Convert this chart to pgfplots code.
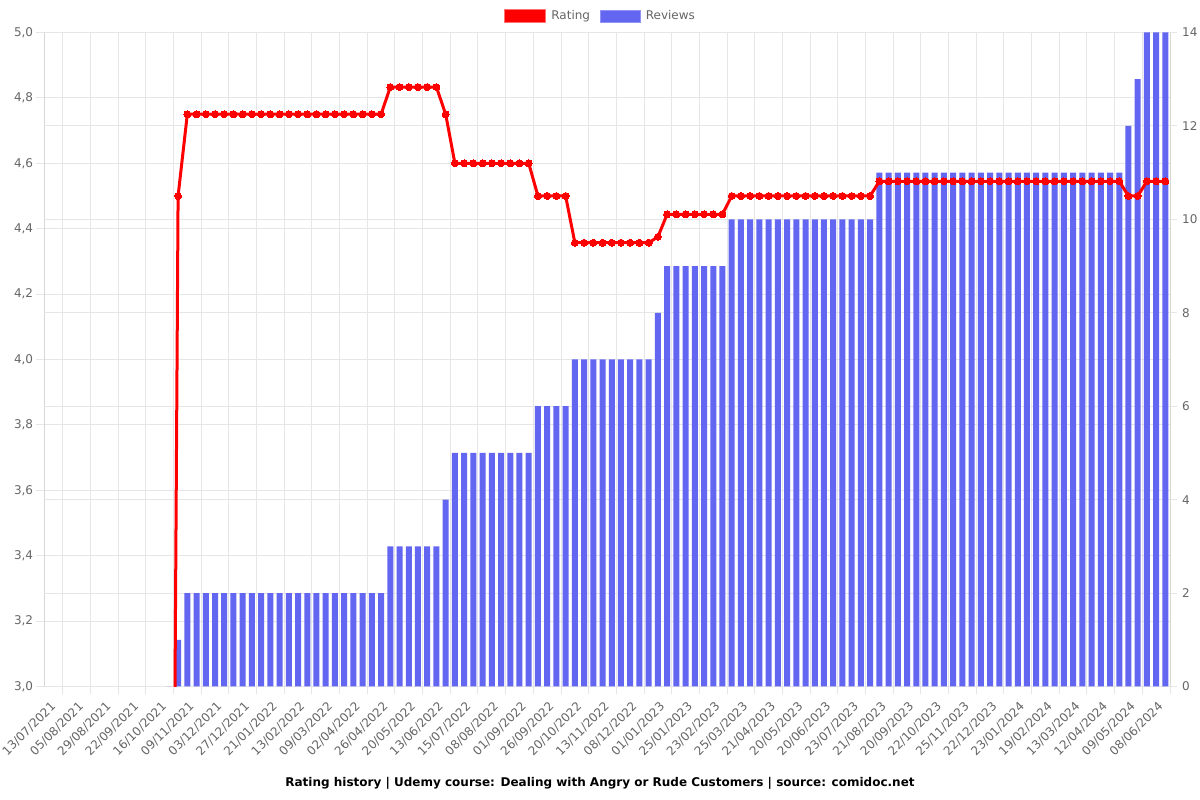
\documentclass[border=0pt]{standalone}
\usepackage{fontspec}
\setmainfont{DejaVu Sans}
\usepackage{pgfplots}
\usepackage{pgfplotstable}
\pgfplotsset{compat=1.18}
\definecolor{gridgray}{HTML}{E6E6E6}
\definecolor{axisgray}{HTML}{D6D6D6}
\definecolor{tickgray}{HTML}{666666}
\definecolor{barblue}{RGB}{99,102,241}
\definecolor{ratingred}{HTML}{FF0000}

\pgfplotstableread{
x rating reviews
13 0 0
14 4.5 1
15 4.75 2
16 4.75 2
17 4.75 2
18 4.75 2
19 4.75 2
20 4.75 2
21 4.75 2
22 4.75 2
23 4.75 2
24 4.75 2
25 4.75 2
26 4.75 2
27 4.75 2
28 4.75 2
29 4.75 2
30 4.75 2
31 4.75 2
32 4.75 2
33 4.75 2
34 4.75 2
35 4.75 2
36 4.75 2
37 4.833 3
38 4.833 3
39 4.833 3
40 4.833 3
41 4.833 3
42 4.833 3
43 4.75 4
44 4.6 5
45 4.6 5
46 4.6 5
47 4.6 5
48 4.6 5
49 4.6 5
50 4.6 5
51 4.6 5
52 4.6 5
53 4.5 6
54 4.5 6
55 4.5 6
56 4.5 6
57 4.357 7
58 4.357 7
59 4.357 7
60 4.357 7
61 4.357 7
62 4.357 7
63 4.357 7
64 4.357 7
65 4.357 7
66 4.375 8
67 4.444 9
68 4.444 9
69 4.444 9
70 4.444 9
71 4.444 9
72 4.444 9
73 4.444 9
74 4.5 10
75 4.5 10
76 4.5 10
77 4.5 10
78 4.5 10
79 4.5 10
80 4.5 10
81 4.5 10
82 4.5 10
83 4.5 10
84 4.5 10
85 4.5 10
86 4.5 10
87 4.5 10
88 4.5 10
89 4.5 10
90 4.545 11
91 4.545 11
92 4.545 11
93 4.545 11
94 4.545 11
95 4.545 11
96 4.545 11
97 4.545 11
98 4.545 11
99 4.545 11
100 4.545 11
101 4.545 11
102 4.545 11
103 4.545 11
104 4.545 11
105 4.545 11
106 4.545 11
107 4.545 11
108 4.545 11
109 4.545 11
110 4.545 11
111 4.545 11
112 4.545 11
113 4.545 11
114 4.545 11
115 4.545 11
116 4.545 11
117 4.5 12
118 4.5 13
119 4.545 14
120 4.545 14
121 4.545 14
}\data

\pgfplotsset{
  common/.style={scale only axis, width=1125.7pt, height=654pt,
    at={(44.3pt,113.5pt)}, anchor=south west, xmin=-0.5, xmax=121.5},
  tickfont/.style={font=\fontsize{12}{14}\selectfont, text=tickgray},
}

\begin{document}
\begin{tikzpicture}
\useasboundingbox (0,0) rectangle (1200pt,800pt);
\fill[white] (0,0) rectangle (1200pt,800pt);

% grid axis (rating scale, left)
\begin{axis}[common, ymin=3, ymax=5,
  ytick={3,3.2,3.4,3.6,3.8,4,4.2,4.4,4.6,4.8,5},
  xtick={1.5,4.5,7.5,10.5,13.5,16.5,19.5,22.5,25.5,28.5,31.5,34.5,37.5,40.5,43.5,46.5,49.5,52.5,55.5,58.5,61.5,64.5,67.5,70.5,73.5,76.5,79.5,82.5,85.5,88.5,91.5,94.5,97.5,100.5,103.5,106.5,109.5,112.5,115.5,118.5,121.5},
  xticklabels={},
  tick pos=left, tick align=outside, major tick length=8pt,
  grid=major, major grid style={gridgray, line width=1pt},
  tick style={gridgray, line width=1pt},
  axis line style={axisgray, line width=1pt},
  yticklabel style={tickfont, inner sep=0pt, xshift=-3pt},
  /pgf/number format/.cd, fixed, fixed zerofill, precision=1, use comma, assume math mode=true]
\end{axis}

% reviews axis (right)
\begin{axis}[common, ymin=0, ymax=14,
  ytick={0,2,4,6,8,10,12,14}, xtick=\empty,
  ytick pos=right, yticklabel pos=right,
  tick align=outside, major tick length=7pt,
  ymajorgrids, major grid style={gridgray, line width=1pt},
  tick style={gridgray, line width=1pt},
  axis line style={draw=none},
  yticklabel style={tickfont, inner sep=0pt, xshift=5pt},
  /pgf/number format/assume math mode=true]
\addplot[ybar, bar width=6pt, bar shift=0pt, fill=barblue, draw=none] table[x=x, y=reviews] {\data};
\end{axis}

% rating line axis
\begin{axis}[common, ymin=3, ymax=5, ytick=\empty,
  xtick={1,4,7,10,13,16,19,22,25,28,31,34,37,40,43,46,49,52,55,58,61,64,67,70,73,76,79,82,85,88,91,94,97,100,103,106,109,112,115,118,121},
  xticklabels={13/07/2021,05/08/2021,29/08/2021,22/09/2021,16/10/2021,09/11/2021,03/12/2021,27/12/2021,21/01/2022,13/02/2022,09/03/2022,02/04/2022,26/04/2022,20/05/2022,13/06/2022,15/07/2022,08/08/2022,01/09/2022,26/09/2022,20/10/2022,13/11/2022,08/12/2022,01/01/2023,25/01/2023,23/02/2023,25/03/2023,21/04/2023,20/05/2023,20/06/2023,23/07/2023,21/08/2023,20/09/2023,22/10/2023,25/11/2023,22/12/2023,23/01/2024,19/02/2024,13/03/2024,12/04/2024,09/05/2024,08/06/2024},
  major tick length=0pt, tick style={draw=none},
  axis line style={draw=none},
  xticklabel style={tickfont, inner sep=0pt, anchor=east, xshift=-4.5pt, yshift=-18pt, rotate=45},
  legend columns=2,
  legend style={at={(0.4940,1.0252)}, anchor=center, draw=none, fill=none,
    font=\fontsize{12}{14}\selectfont, text=tickgray, inner sep=0pt,
    /tikz/every odd column/.append style={column sep=3pt},
    /tikz/every even column/.append style={column sep=8pt}},
  legend cell align=left]
\addplot[ratingred, line width=3pt, line join=round, mark=*, mark size=3.5pt,
  mark options={solid, fill=ratingred, draw=ratingred, line width=0pt}, forget plot]
  table[x=x, y=rating] {\data};
\addlegendimage{legend image code/.code={\draw[draw=ratingred!55!white, fill=ratingred, line width=1.5pt] (0pt,-6.5pt) rectangle (41pt,6.5pt);}}
\addlegendentry{Rating}
\addlegendimage{legend image code/.code={\draw[draw=barblue!70!white, fill=barblue, line width=0.8pt] (0pt,-6pt) rectangle (40pt,6pt);}}
\addlegendentry{Reviews}
\end{axis}

\node[font=\bfseries\fontsize{12}{14}\selectfont, text=black] at (600pt,17pt)
  {Rating history | Udemy course: Dealing with Angry or Rude Customers | source: comidoc.net};
\end{tikzpicture}
\end{document}
